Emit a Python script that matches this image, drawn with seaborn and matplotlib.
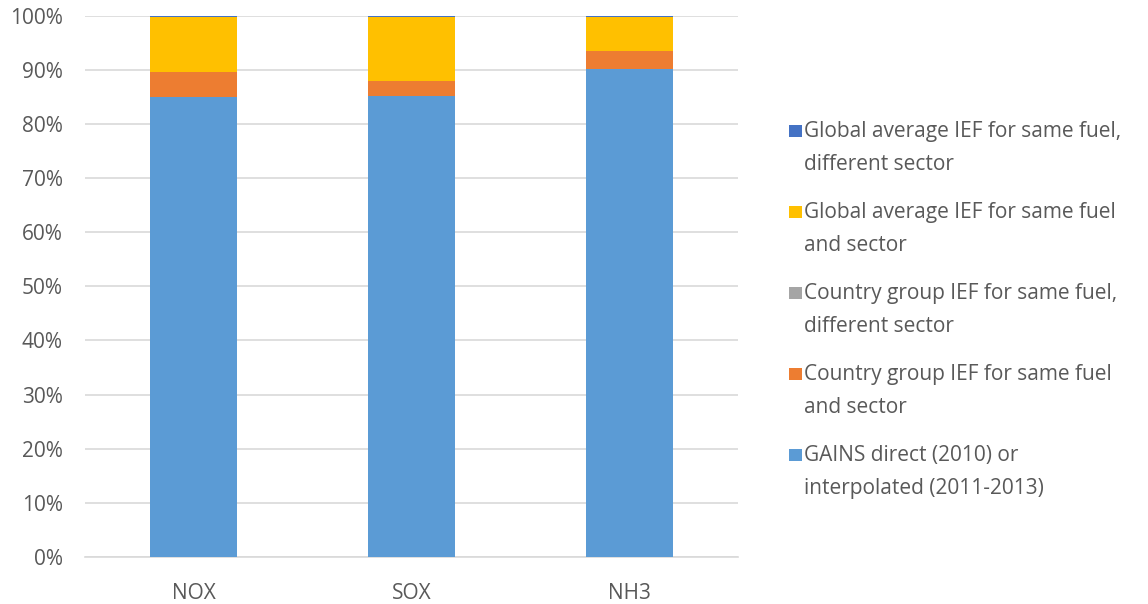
import matplotlib
matplotlib.use("Agg")
import matplotlib.pyplot as plt
import seaborn as sns
import numpy as np
import pandas as pd
from matplotlib.patches import Patch, Rectangle
from matplotlib.legend_handler import HandlerBase
from matplotlib.ticker import PercentFormatter

categories = ["NOX", "SOX", "NH3"]
gains = [84.9, 85.2, 90.1]
cg_same = [4.7, 2.8, 3.3]
cg_diff = [0.0, 0.0, 0.0]
glob_same = [10.1, 11.7, 6.3]
glob_diff = [0.3, 0.3, 0.3]

series_labels = [
    "GAINS direct (2010) or\ninterpolated (2011-2013)",
    "Country group IEF for same fuel\nand sector",
    "Country group IEF for same fuel,\ndifferent sector",
    "Global average IEF for same fuel\nand sector",
    "Global average IEF for same fuel,\ndifferent sector",
]
colors = ["#5B9BD5", "#ED7D31", "#A5A5A5", "#FFC000", "#4472C4"]

sns.set_theme(style="white")
plt.rcParams["font.family"] = ["Open Sans", "DejaVu Sans"]
text_color = "#595959"

data = np.array([gains, cg_same, cg_diff, glob_same, glob_diff], dtype=float)
data = data / data.sum(axis=0)
cum = np.cumsum(data, axis=0)

fig = plt.figure(figsize=(11.48, 6.04), dpi=100)
ax = fig.add_axes([0.074, 0.0778, 0.569, 0.8965])

for i in range(len(series_labels) - 1, -1, -1):
    df = pd.DataFrame({"cat": categories, "val": cum[i]})
    sns.barplot(data=df, x="cat", y="val", color=colors[i], width=0.4,
                saturation=1, ax=ax, zorder=3, linewidth=0)

ax.set_ylim(0, 1)
ax.set_xlim(-0.5, 2.5)
ax.set_yticks(np.arange(0, 1.01, 0.1))
ax.yaxis.set_major_formatter(PercentFormatter(1.0, decimals=0))
ax.grid(axis="y", color="#D9D9D9", linewidth=1.2, zorder=0)
ax.set_axisbelow(True)
for s in ["top", "right", "left"]:
    ax.spines[s].set_visible(False)
ax.spines["bottom"].set_color("#D9D9D9")
ax.spines["bottom"].set_linewidth(1.2)
ax.set_xlabel("")
ax.set_ylabel("")
ax.tick_params(axis="both", length=0, labelsize=15, colors=text_color)
ax.tick_params(axis="y", pad=16)
ax.tick_params(axis="x", pad=19)


class TopSquareHandler(HandlerBase):
    def create_artists(self, legend, orig_handle, xdescent, ydescent,
                       width, height, fontsize, trans):
        s = fontsize * 0.6
        y0 = height - ydescent - s + fontsize * 0.3
        r = Rectangle((-xdescent + width - s, y0), s, s,
                      facecolor=orig_handle.get_facecolor(),
                      edgecolor="none", transform=trans)
        return [r]


handles = [Patch(facecolor=colors[i], edgecolor="none") for i in range(len(colors))][::-1]
labels = series_labels[::-1]
leg = fig.legend(handles, labels, loc="upper left", bbox_to_anchor=(0.671, 0.830),
                 frameon=False, fontsize=15, labelcolor=text_color,
                 handlelength=0.6, handleheight=2.4, handletextpad=0.1,
                 labelspacing=1.3,
                 handler_map={Patch: TopSquareHandler()})
for t in leg.get_texts():
    t.set_linespacing(1.74)

fig.savefig("out.png", dpi=100)
